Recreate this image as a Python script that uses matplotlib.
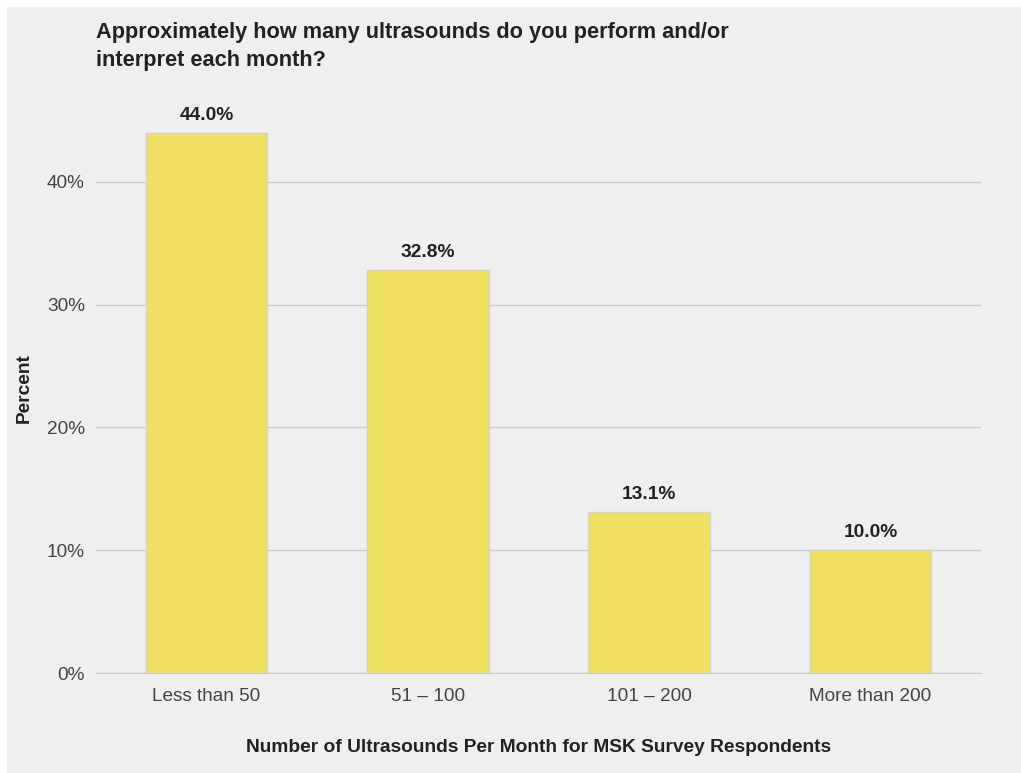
import matplotlib.pyplot as plt
from matplotlib.patches import Rectangle
from matplotlib.ticker import FuncFormatter

categories = ["Less than 50", "51 \u2013 100", "101 \u2013 200", "More than 200"]
percents = [44.0, 32.8, 13.1, 10.0]
yticks = [0, 10, 20, 30, 40]

W, H = 1021, 773
fig = plt.figure(figsize=(W / 100, H / 100), dpi=100, facecolor="white")
plt.rcParams["font.family"] = ["Liberation Sans", "DejaVu Sans"]

# light grey panel behind everything (thin white margin on left/top)
fig.patches.append(Rectangle((7 / W, 0), 1 - 7 / W, 1 - 7 / H,
                             transform=fig.transFigure, facecolor="#efefef",
                             edgecolor="none", zorder=-10))

ax_left, ax_right = 96 / W, 981 / W
ax_bottom = 1 - 673 / H
ymax = 46.5
ax_top = 1 - (673 - ymax * 12.275) / H
ax = fig.add_axes([ax_left, ax_bottom, ax_right - ax_left, ax_top - ax_bottom])
ax.set_facecolor("#efefef")

x = range(len(categories))
ax.bar(x, percents, width=0.55, color="#efe061", edgecolor="#d2d2c8",
       linewidth=1.0, zorder=3)
for xi, v in zip(x, percents):
    ax.text(xi, v + 0.75, f"{v:.1f}%", ha="center", va="bottom",
            fontsize=13.8, fontweight="bold", color="#222222")

ax.set_xlim(-0.5, 3.5)
ax.set_ylim(0, ymax)
ax.set_yticks(yticks)
ax.yaxis.set_major_formatter(FuncFormatter(lambda v, p: f"{v:.0f}%"))
ax.set_xticks(list(x))
ax.set_xticklabels(categories)
ax.grid(axis="y", color="#cccccc", linewidth=1.0, zorder=0)
ax.set_axisbelow(True)
for s in ["top", "right", "left"]:
    ax.spines[s].set_visible(False)
ax.spines["bottom"].set_color("#cccccc")
ax.tick_params(axis="both", length=0, labelsize=13.7, colors="#444444")
ax.tick_params(axis="x", pad=11)
ax.tick_params(axis="y", pad=8)

ax.set_ylabel("Percent", fontsize=13.8, fontweight="bold", color="#222222",
              labelpad=10)
ax.set_xlabel("Number of Ultrasounds Per Month for MSK Survey Respondents",
              fontsize=13.8, fontweight="bold", color="#222222", labelpad=24)

fig.text(96 / W, 1 - 22 / H,
         "Approximately how many ultrasounds do you perform and/or\ninterpret each month?",
         ha="left", va="top", fontsize=15.7, fontweight="bold",
         color="#222222", linespacing=1.45)

fig.savefig("out.png", dpi=100, facecolor=fig.get_facecolor())
